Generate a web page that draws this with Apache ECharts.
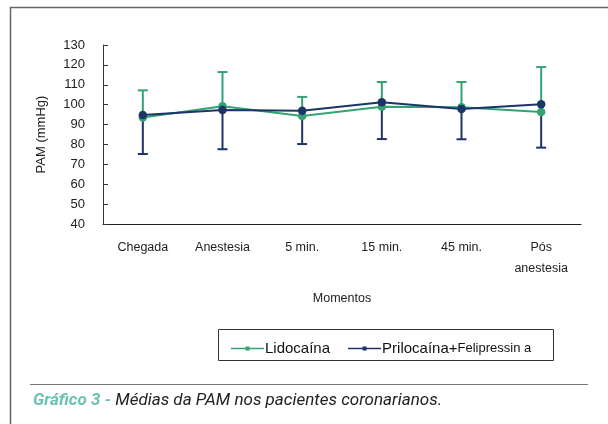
<!DOCTYPE html>
<html><head><meta charset="utf-8">
<script src="https://cdn.jsdelivr.net/npm/echarts@6/dist/echarts.min.js"></script>
<style>html,body{margin:0;padding:0;background:#fff}#c{width:608px;height:424px}</style>
</head><body><div id="c"></div>
<script>
const categories = ['Chegada', 'Anestesia', '5 min.', '15 min.', '45 min.', 'Pós\nanestesia'];
const lidoMean = [93.5, 99.2, 94.3, 99.0, 98.7, 96.3];
const lidoUpper = [107.2, 116.4, 103.9, 111.4, 111.4, 118.9];
const priloMean = [94.8, 97.3, 97.0, 101.2, 97.8, 100.2];
const priloLower = [75.2, 77.6, 80.2, 82.7, 82.6, 78.4];
const yTicks = [40, 130, 10];

const GREEN = '#35a274';
const NAVY = '#1c3467';
const FONT = '"Liberation Sans", Arial, sans-serif';
const CAPFONT = 'Roboto, "Liberation Sans", sans-serif';

function errData(mean, bound) {
  return mean.map((m, i) => [i, m, bound[i]]);
}
function errRender(color) {
  return function (params, api) {
    const x = api.value(0);
    const p1 = api.coord([x, api.value(1)]);
    const p2 = api.coord([x, api.value(2)]);
    const hw = 5;
    return {
      type: 'group',
      children: [
        { type: 'line', shape: { x1: p1[0], y1: p1[1], x2: p2[0], y2: p2[1] }, style: { stroke: color, lineWidth: 2 } },
        { type: 'line', shape: { x1: p2[0] - hw, y1: p2[1], x2: p2[0] + hw, y2: p2[1] }, style: { stroke: color, lineWidth: 2 } }
      ]
    };
  };
}

const chart = echarts.init(document.getElementById('c'), null, { renderer: 'canvas' });
chart.setOption({
  animation: false,
  backgroundColor: '#fff',
  textStyle: { fontFamily: FONT },
  grid: { left: 103, right: 27, top: 45, bottom: 200, containLabel: false },
  xAxis: {
    type: 'category',
    data: categories,
    boundaryGap: true,
    axisLine: { lineStyle: { color: '#222', width: 1 } },
    axisTick: { show: false },
    axisLabel: { color: '#222', fontSize: 12.5, fontFamily: FONT, margin: 13, lineHeight: 21 },
    name: 'Momentos',
    nameLocation: 'middle',
    nameGap: 68,
    nameTextStyle: { color: '#222', fontSize: 12.5, fontFamily: FONT }
  },
  yAxis: {
    type: 'value',
    min: yTicks[0], max: yTicks[1], interval: yTicks[2],
    axisLine: { show: true, lineStyle: { color: '#333', width: 1 } },
    axisTick: { show: true, inside: true, length: 5, lineStyle: { color: '#333' } },
    splitLine: { show: false },
    axisLabel: { color: '#222', fontSize: 13, fontFamily: FONT, margin: 18 },
    name: 'PAM (mmHg)',
    nameLocation: 'middle',
    nameGap: 55,
    nameTextStyle: { color: '#222', fontSize: 13, fontFamily: FONT }
  },
  legend: {
    left: 226, top: 336,
    itemWidth: 33, itemHeight: 6, itemGap: 18,
    icon: 'path://M0,2.3h33v1.4h-33z M14.5,1h4v4h-4z',
    textStyle: {
      color: '#111', fontFamily: FONT, fontSize: 15, padding: [0, 0, 0, -4],
      rich: { big: { fontSize: 15, color: '#111', fontFamily: FONT }, small: { fontSize: 13, color: '#111', fontFamily: FONT } }
    },
    formatter: function (name) {
      if (name === 'Prilocaína+Felipressina') return '{big|Prilocaína+}{small|Felipressin a}';
      return '{big|' + name + '}';
    },
    data: ['Lidocaína', 'Prilocaína+Felipressina']
  },
  graphic: [
    { type: 'line', shape: { x1: 10, y1: 7.5, x2: 608, y2: 7.5 }, style: { stroke: '#666', lineWidth: 1.5 } },
    { type: 'line', shape: { x1: 10.5, y1: 7, x2: 10.5, y2: 424 }, style: { stroke: '#666', lineWidth: 1.5 } },
    { type: 'rect', shape: { x: 218.5, y: 329.5, width: 335, height: 31 }, style: { fill: 'none', stroke: '#333', lineWidth: 1 }, z: -1 },
    { type: 'line', shape: { x1: 30, y1: 384.5, x2: 588, y2: 384.5 }, style: { stroke: '#777', lineWidth: 1 } },
    {
      type: 'text', left: 33, top: 392,
      style: {
        text: '{a|Gráfico 3 - }{b|Médias da PAM nos pacientes coronarianos.}',
        rich: {
          a: { fill: '#6cc4b0', fontStyle: 'italic', fontWeight: 'bold', fontSize: 17, fontFamily: CAPFONT },
          b: { fill: '#222', fontStyle: 'italic', fontSize: 17, fontFamily: CAPFONT }
        }
      }
    }
  ],
  series: [
    { type: 'custom', name: 'errL', renderItem: errRender(GREEN), data: errData(lidoMean, lidoUpper), z: 1, silent: true,
      encode: { x: 0, y: [1, 2] } },
    { type: 'custom', name: 'errP', renderItem: errRender(NAVY), data: errData(priloMean, priloLower), z: 2, silent: true,
      encode: { x: 0, y: [1, 2] } },
    { type: 'line', name: 'Lidocaína', data: lidoMean, color: GREEN, symbol: 'circle', symbolSize: 8.5,
      lineStyle: { width: 2, color: GREEN }, itemStyle: { color: GREEN }, z: 3 },
    { type: 'line', name: 'Prilocaína+Felipressina', data: priloMean, color: NAVY, symbol: 'circle', symbolSize: 8.5,
      lineStyle: { width: 2, color: NAVY }, itemStyle: { color: NAVY }, z: 4 }
  ]
});
</script></body></html>
